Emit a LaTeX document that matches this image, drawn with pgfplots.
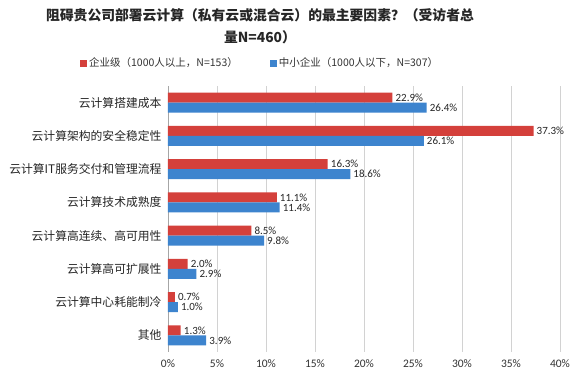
\documentclass[border=0pt]{standalone}
\usepackage{pgfplots}
\pgfplotsset{compat=1.18}
\usepackage{fontspec}
\setmainfont{Carlito}
\newfontfamily\cjk{Noto Sans CJK SC}
\definecolor{bred}{HTML}{D4403B}
\definecolor{bblue}{HTML}{3D84CE}
\begin{document}
\begin{tikzpicture}
\useasboundingbox (0pt,0pt) rectangle (581pt,381pt);
\fill[white] (0pt,0pt) rectangle (581pt,381pt);
\node[font=\cjk\bfseries\fontsize{13.8}{22}\selectfont, align=center, text=black!85] at (260pt,355pt)
  {阻碍贵公司部署云计算（私有云或混合云）的最主要因素？（受访者总\\量N=460）};
\begin{axis}[
  at={(168pt,29pt)}, anchor=south west,
  scale only axis, width=392pt, height=266pt,
  xbar, bar width=10pt,
  xmin=0, xmax=40, ymin=-0.5, ymax=7.5, y dir=reverse,
  ytick={0,...,7},
  yticklabels={云计算搭建成本,云计算架构的安全稳定性,云计算IT服务交付和管理流程,云计算技术成熟度,云计算高连续、高可用性,云计算高可扩展性,云计算中心耗能制冷,其他},
  yticklabel style={font=\cjk\fontsize{11.8}{13}\selectfont, text=black!85, xshift=-3pt},
  xtick={0,5,...,40},
  /pgf/number format/assume math mode=true,
  xticklabel={\pgfmathprintnumber{\tick}\%},
  xticklabel style={font=\fontsize{11.5}{13}\selectfont, text=black!80, yshift=-4pt},
  xmajorgrids, grid style={gray!35, line width=0.6pt},
  axis x line*=bottom, axis y line*=left,
  x axis line style={draw=none},
  y axis line style={gray!70},
  major tick length=0pt,
  nodes near coords={\pgfmathprintnumber[fixed,fixed zerofill,precision=1]{\pgfplotspointmeta}\%},
  nodes near coords style={anchor=west, font=\fontsize{11}{11}\selectfont, text=black!85, inner xsep=3pt, inner ysep=0pt},
  legend style={at={(0.235,1.086)}, anchor=center, draw=none, fill=none,
    font=\cjk\fontsize{10.5}{12}\selectfont, text=black!80, legend columns=2,
    /tikz/every even column/.append style={column sep=30pt}},
  legend image code/.code={\fill[#1] (0pt,-3.5pt) rectangle (7pt,3.5pt);},
]
\addplot[fill=bred, draw=none, bar shift=5pt] coordinates {(22.9,0) (37.3,1) (16.3,2) (11.1,3) (8.5,4) (2.0,5) (0.7,6) (1.3,7)};
\addplot[fill=bblue, draw=none, bar shift=-5pt] coordinates {(26.4,0) (26.1,1) (18.6,2) (11.4,3) (9.8,4) (2.9,5) (1.0,6) (3.9,7)};
\legend{企业级（1000人以上，N=153）,中小企业（1000人以下，N=307）}
\end{axis}
\end{tikzpicture}
\end{document}
